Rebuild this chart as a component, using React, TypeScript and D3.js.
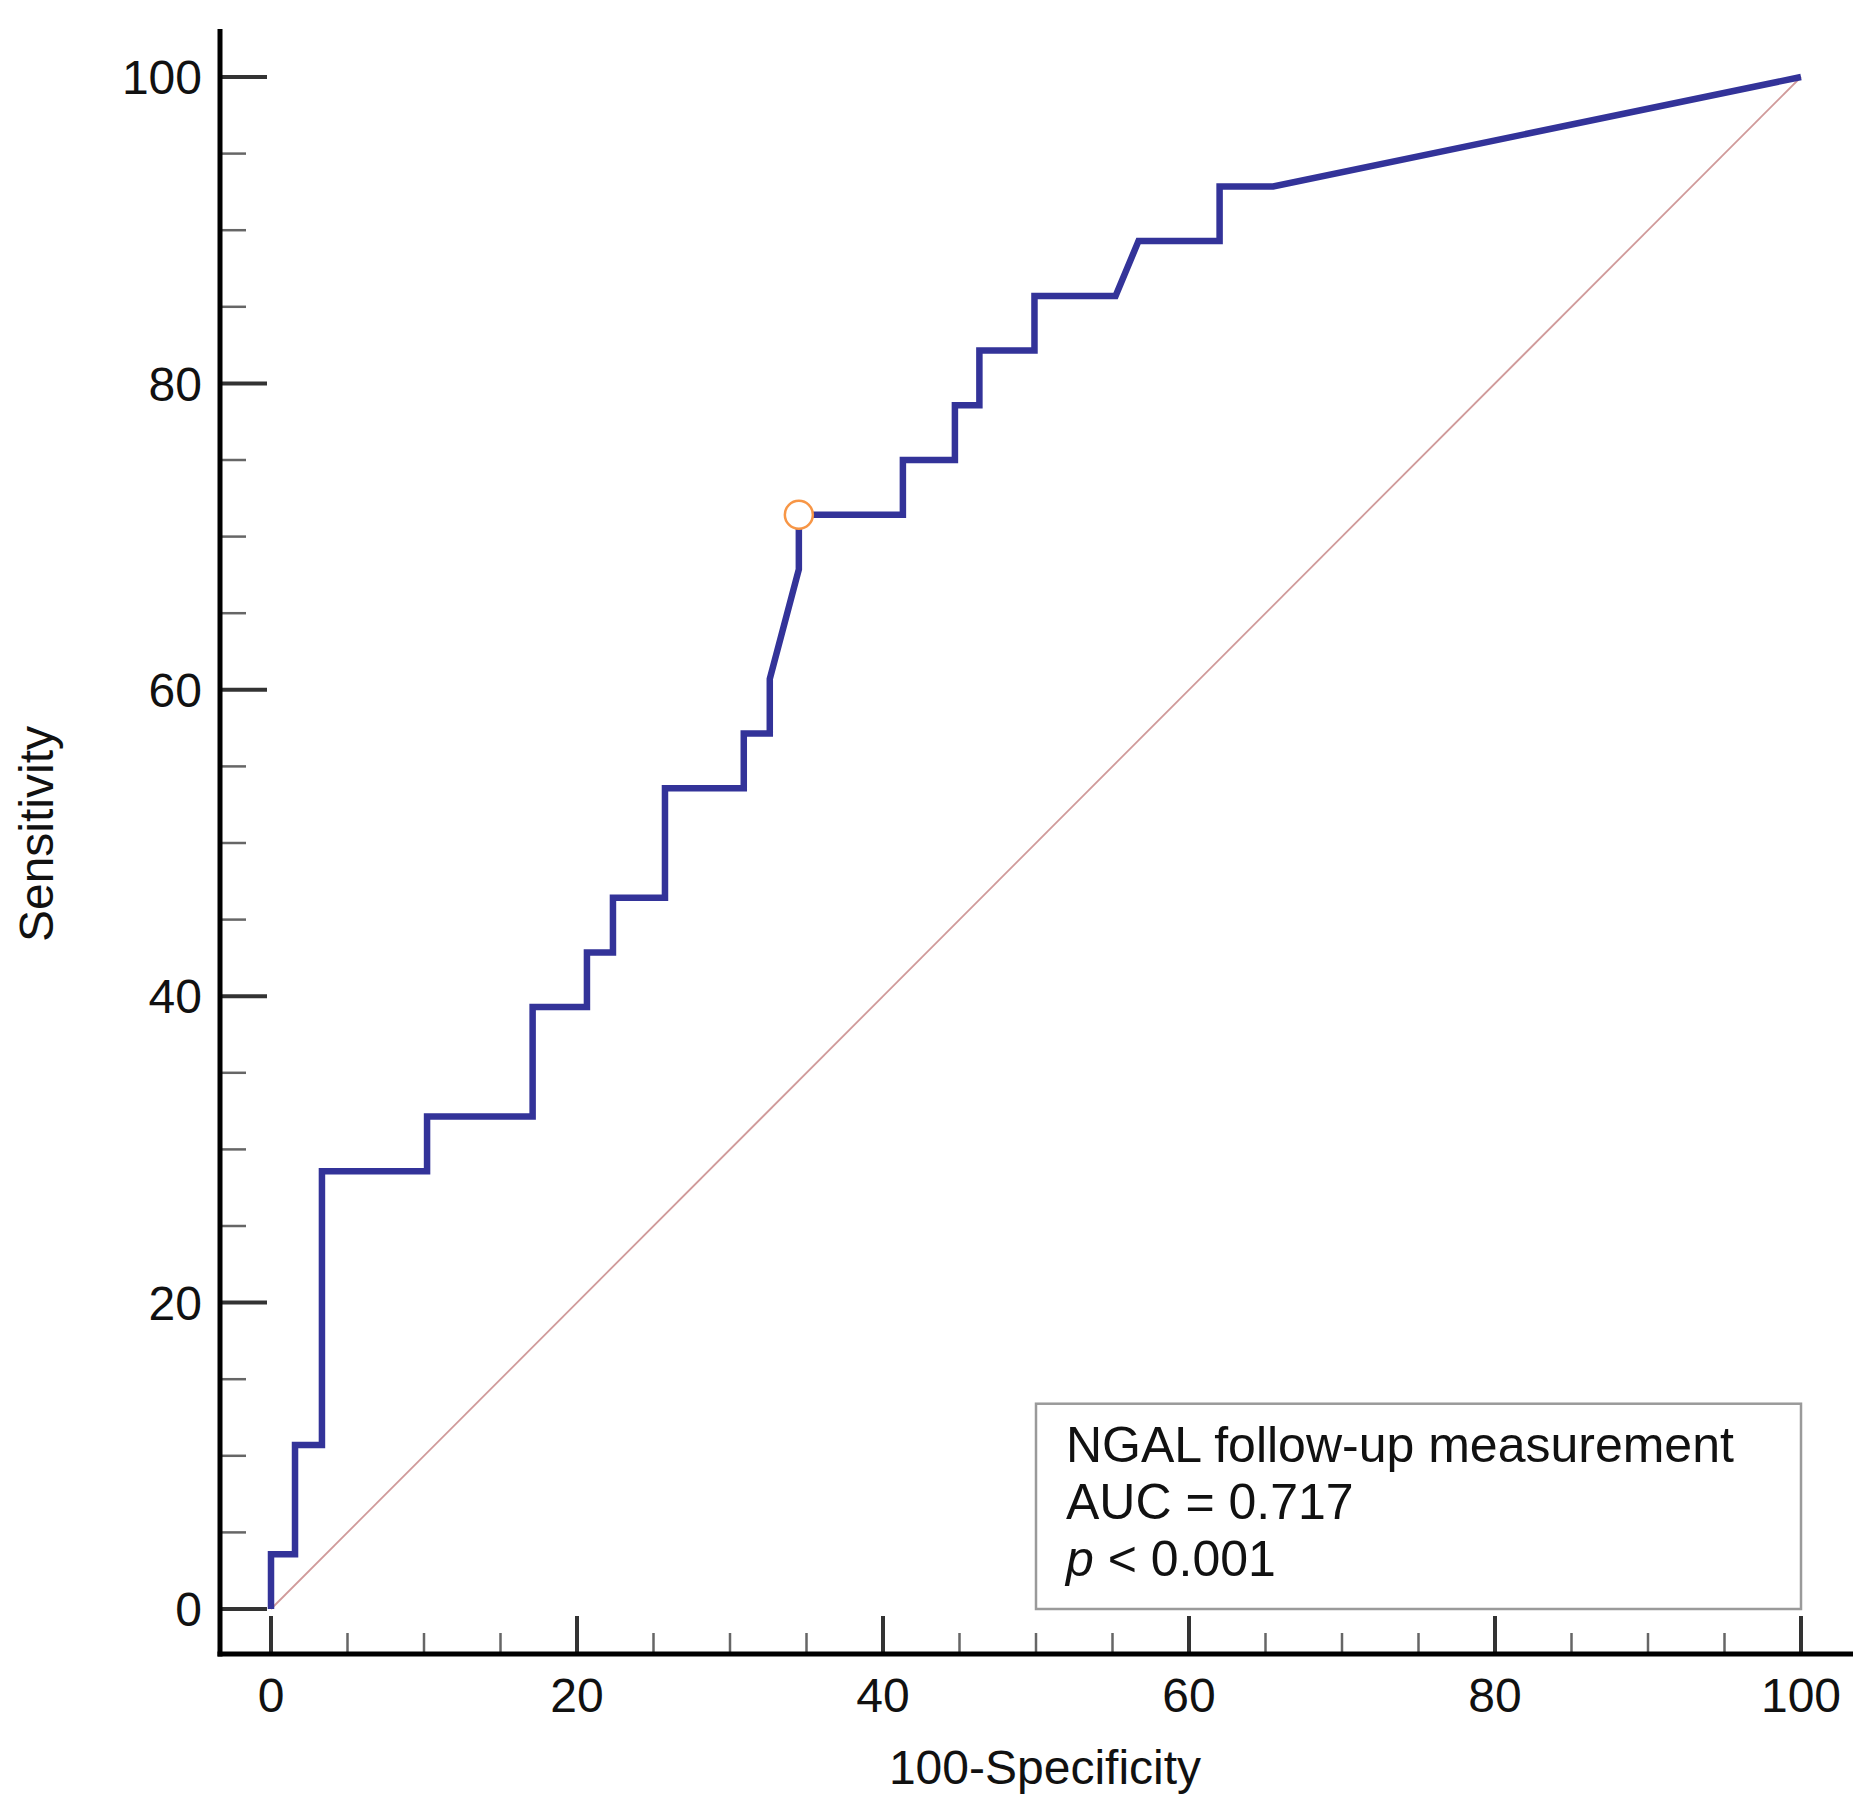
import React from 'react';
import * as d3 from 'd3';

// ROC curve (100-Specificity, Sensitivity), in %
const fpr = [
  0, 0, 1.57, 1.57, 3.33, 3.33, 10.2, 10.2, 17.1, 17.1, 20.65, 20.65, 22.35, 22.35,
  25.75, 25.75, 30.9, 30.9, 32.6, 32.6, 34.5, 34.5, 41.3, 41.3, 44.7, 44.7, 46.3, 46.3,
  49.9, 49.9, 55.2, 56.7, 62.0, 62.0, 65.5, 100,
];
const tpr = [
  0, 3.57, 3.57, 10.71, 10.71, 28.57, 28.57, 32.14, 32.14, 39.29, 39.29, 42.86, 42.86, 46.43,
  46.43, 53.57, 53.57, 57.14, 57.14, 60.71, 67.86, 71.43, 71.43, 75, 75, 78.57, 78.57, 82.14,
  82.14, 85.71, 85.71, 89.29, 89.29, 92.86, 92.86, 100,
];
// optimal criterion point
const criterion = { x: 34.5, y: 71.43 };

const majorTicks = [0, 20, 40, 60, 80, 100];
const minorTicks = [5, 10, 15, 25, 30, 35, 45, 50, 55, 65, 70, 75, 85, 90, 95];

const legendLines = ['NGAL follow-up measurement', 'AUC = 0.717', '< 0.001'];

const W = 1863;
const H = 1813;
const font = '"Liberation Sans", Arial, sans-serif';

const App: React.FC = () => {
  const x = d3.scaleLinear().domain([0, 100]).range([271, 1801]);
  const y = d3.scaleLinear().domain([0, 100]).range([1609, 77]);

  const axisX = 220; // y-axis line position
  const axisY = 1654; // x-axis line position

  const pts: [number, number][] = fpr.map((f, i) => [f, tpr[i]]);
  const line = d3
    .line<[number, number]>()
    .x((d) => x(d[0]))
    .y((d) => y(d[1]));

  return (
    <svg
      width={W}
      height={H}
      viewBox={`0 0 ${W} ${H}`}
      style={{ position: 'absolute', left: 0, top: 0, background: '#fff' }}
      fontFamily={font}
    >
      {/* reference diagonal */}
      <line
        x1={x(0)}
        y1={y(0)}
        x2={x(100)}
        y2={y(100)}
        stroke="#d09a9a"
        strokeWidth={1.8}
      />

      {/* legend box */}
      <rect
        x={x(50)}
        y={y(13.4)}
        width={x(100) - x(50)}
        height={y(0) - y(13.4)}
        fill="#fff"
        stroke="#9a9a9a"
        strokeWidth={2.5}
      />
      <g fontSize={50} fill="#111">
        <text x={x(50) + 30} y={1462}>{legendLines[0]}</text>
        <text x={x(50) + 30} y={1519}>{legendLines[1]}</text>
        <text x={x(50) + 30} y={1576}>
          <tspan fontStyle="italic">p</tspan> {legendLines[2]}
        </text>
      </g>

      {/* ROC curve */}
      <path
        d={line(pts) ?? ''}
        fill="none"
        stroke="#333399"
        strokeWidth={6.5}
        strokeLinejoin="miter"
      />
      <circle
        cx={x(criterion.x)}
        cy={y(criterion.y)}
        r={14}
        fill="#fff"
        stroke="#f79646"
        strokeWidth={2.5}
      />

      {/* y ticks */}
      {majorTicks.map((t) => (
        <g key={`ym${t}`}>
          <line x1={axisX} x2={267} y1={y(t)} y2={y(t)} stroke="#333" strokeWidth={4} />
          <text
            x={202}
            y={y(t)}
            dy="0.36em"
            textAnchor="end"
            fontSize={48}
            fill="#111"
          >
            {t}
          </text>
        </g>
      ))}
      {minorTicks.map((t) => (
        <line key={`yn${t}`} x1={axisX} x2={246} y1={y(t)} y2={y(t)} stroke="#666" strokeWidth={2.5} />
      ))}

      {/* x ticks */}
      {majorTicks.map((t) => (
        <g key={`xm${t}`}>
          <line x1={x(t)} x2={x(t)} y1={axisY} y2={1616} stroke="#333" strokeWidth={4} />
          <text x={x(t)} y={1712} textAnchor="middle" fontSize={48} fill="#111">
            {t}
          </text>
        </g>
      ))}
      {minorTicks.map((t) => (
        <line key={`xn${t}`} x1={x(t)} x2={x(t)} y1={axisY} y2={1633} stroke="#666" strokeWidth={2.5} />
      ))}

      {/* axis lines */}
      <line x1={axisX} x2={axisX} y1={29} y2={axisY + 2.5} stroke="#000" strokeWidth={5} />
      <line x1={axisX - 2.5} x2={1853} y1={axisY} y2={axisY} stroke="#000" strokeWidth={5} />

      {/* axis titles */}
      <text x={1045} y={1784} textAnchor="middle" fontSize={48} fill="#111">
        100-Specificity
      </text>
      <text
        transform="translate(53, 834) rotate(-90)"
        textAnchor="middle"
        fontSize={48}
        fill="#111"
      >
        Sensitivity
      </text>
    </svg>
  );
};

export default App;
